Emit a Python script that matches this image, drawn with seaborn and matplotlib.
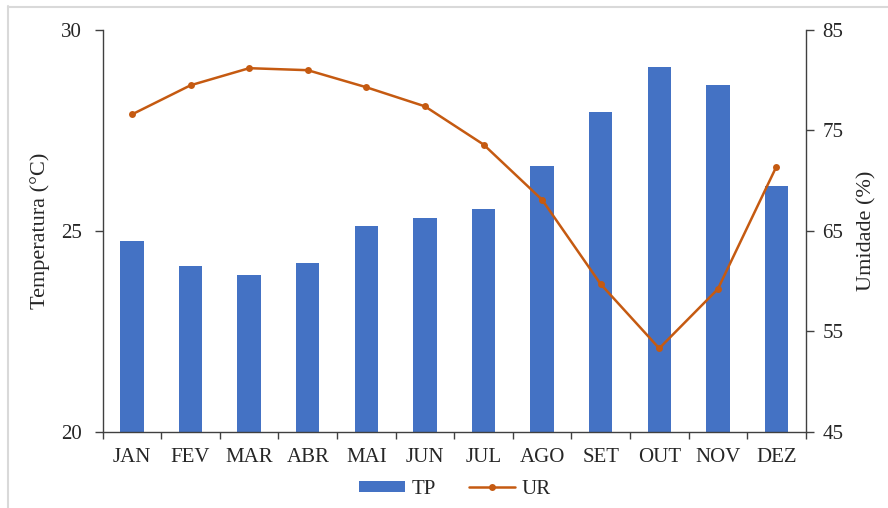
import numpy as np
import pandas as pd
import seaborn as sns
import matplotlib.pyplot as plt
from matplotlib.lines import Line2D
from matplotlib.patches import Patch

meses = ["JAN", "FEV", "MAR", "ABR", "MAI", "JUN", "JUL", "AGO", "SET", "OUT", "NOV", "DEZ"]
tp = [24.75, 24.13, 23.89, 24.21, 25.12, 25.31, 25.54, 26.61, 27.95, 29.07, 28.62, 26.11]
ur = [76.6, 79.5, 81.2, 81.0, 79.3, 77.4, 73.6, 68.1, 59.7, 53.3, 59.2, 71.4]

df = pd.DataFrame({"mes": meses, "TP": tp, "UR": ur})

sns.set_theme(style="white")
plt.rcParams["font.family"] = ["Liberation Serif", "DejaVu Serif"]

bar_color = "#4472C4"
line_color = "#C55A11"
text_color = "#262626"

fig = plt.figure(figsize=(8.88, 5.08), dpi=100)
ax = fig.add_axes([0.1157, 0.1502, 0.9073 - 0.1157, 0.9409 - 0.1502])

sns.barplot(data=df, x="mes", y="TP", color=bar_color, width=0.4,
            saturation=1, ax=ax, linewidth=0)
ax.set_ylim(20, 30)
ax.set_yticks([20, 25, 30])

ax2 = ax.twinx()
sns.lineplot(x=np.arange(len(meses)), y=df["UR"], color=line_color, ax=ax2,
             marker="o", markersize=5, markeredgewidth=0, linewidth=1.8)
ax2.set_ylim(45, 85)
ax2.set_yticks([45, 55, 65, 75, 85])
ax.set_xlim(-0.5, len(meses) - 0.5)

# category ticks sit between months, labels centred under each bar
ax.set_xticks(np.arange(-0.5, len(meses)), minor=False)
ax.set_xticklabels([])
ax.set_xticks(np.arange(len(meses)), minor=True)
ax.set_xticklabels(meses, minor=True)
ax.tick_params(axis="x", which="major", direction="out", length=5, width=1, color="#404040", bottom=True)
ax.tick_params(axis="x", which="minor", length=0, labelsize=15, pad=12, colors=text_color)
ax.tick_params(axis="y", direction="out", length=6, width=1, color="#404040", left=True,
               labelsize=15, colors=text_color, pad=9)
ax2.tick_params(axis="y", direction="out", length=6, width=1, color="#404040", right=True,
                labelsize=15, colors=text_color, pad=6)

for a in (ax, ax2):
    a.spines["top"].set_visible(False)
    for s in ("left", "right", "bottom"):
        a.spines[s].set_color("#404040")
        a.spines[s].set_linewidth(1)
ax.spines["right"].set_visible(False)
ax2.spines["left"].set_visible(False)
ax2.spines["bottom"].set_visible(False)

ax.set_xlabel("")
ax.set_ylabel("Temperatura (°C)", fontsize=16, color=text_color, labelpad=8)
ax2.set_ylabel("Umidade (%)", fontsize=16, color=text_color, labelpad=10)
ax2.grid(False)
ax.grid(False)

handles = [Patch(facecolor=bar_color, edgecolor="none"),
           Line2D([0], [0], color=line_color, lw=1.8, marker="o", markersize=5, markeredgewidth=0)]
fig.legend(handles, ["TP", "UR"], loc="center", bbox_to_anchor=(0.512, 0.037), ncol=2,
           frameon=False, fontsize=15, handlelength=2.2, handleheight=0.45,
           columnspacing=1.6, handletextpad=0.3, labelcolor=text_color)

# light frame around the chart area
fig.add_artist(Line2D([7.5 / 888, 7.5 / 888], [0, 1 - 6 / 508], transform=fig.transFigure,
                      color="#d9d9d9", lw=1.5))
fig.add_artist(Line2D([7.5 / 888, 1], [1 - 6.5 / 508, 1 - 6.5 / 508], transform=fig.transFigure,
                      color="#d9d9d9", lw=1.5))

fig.savefig("out.png", dpi=100)
